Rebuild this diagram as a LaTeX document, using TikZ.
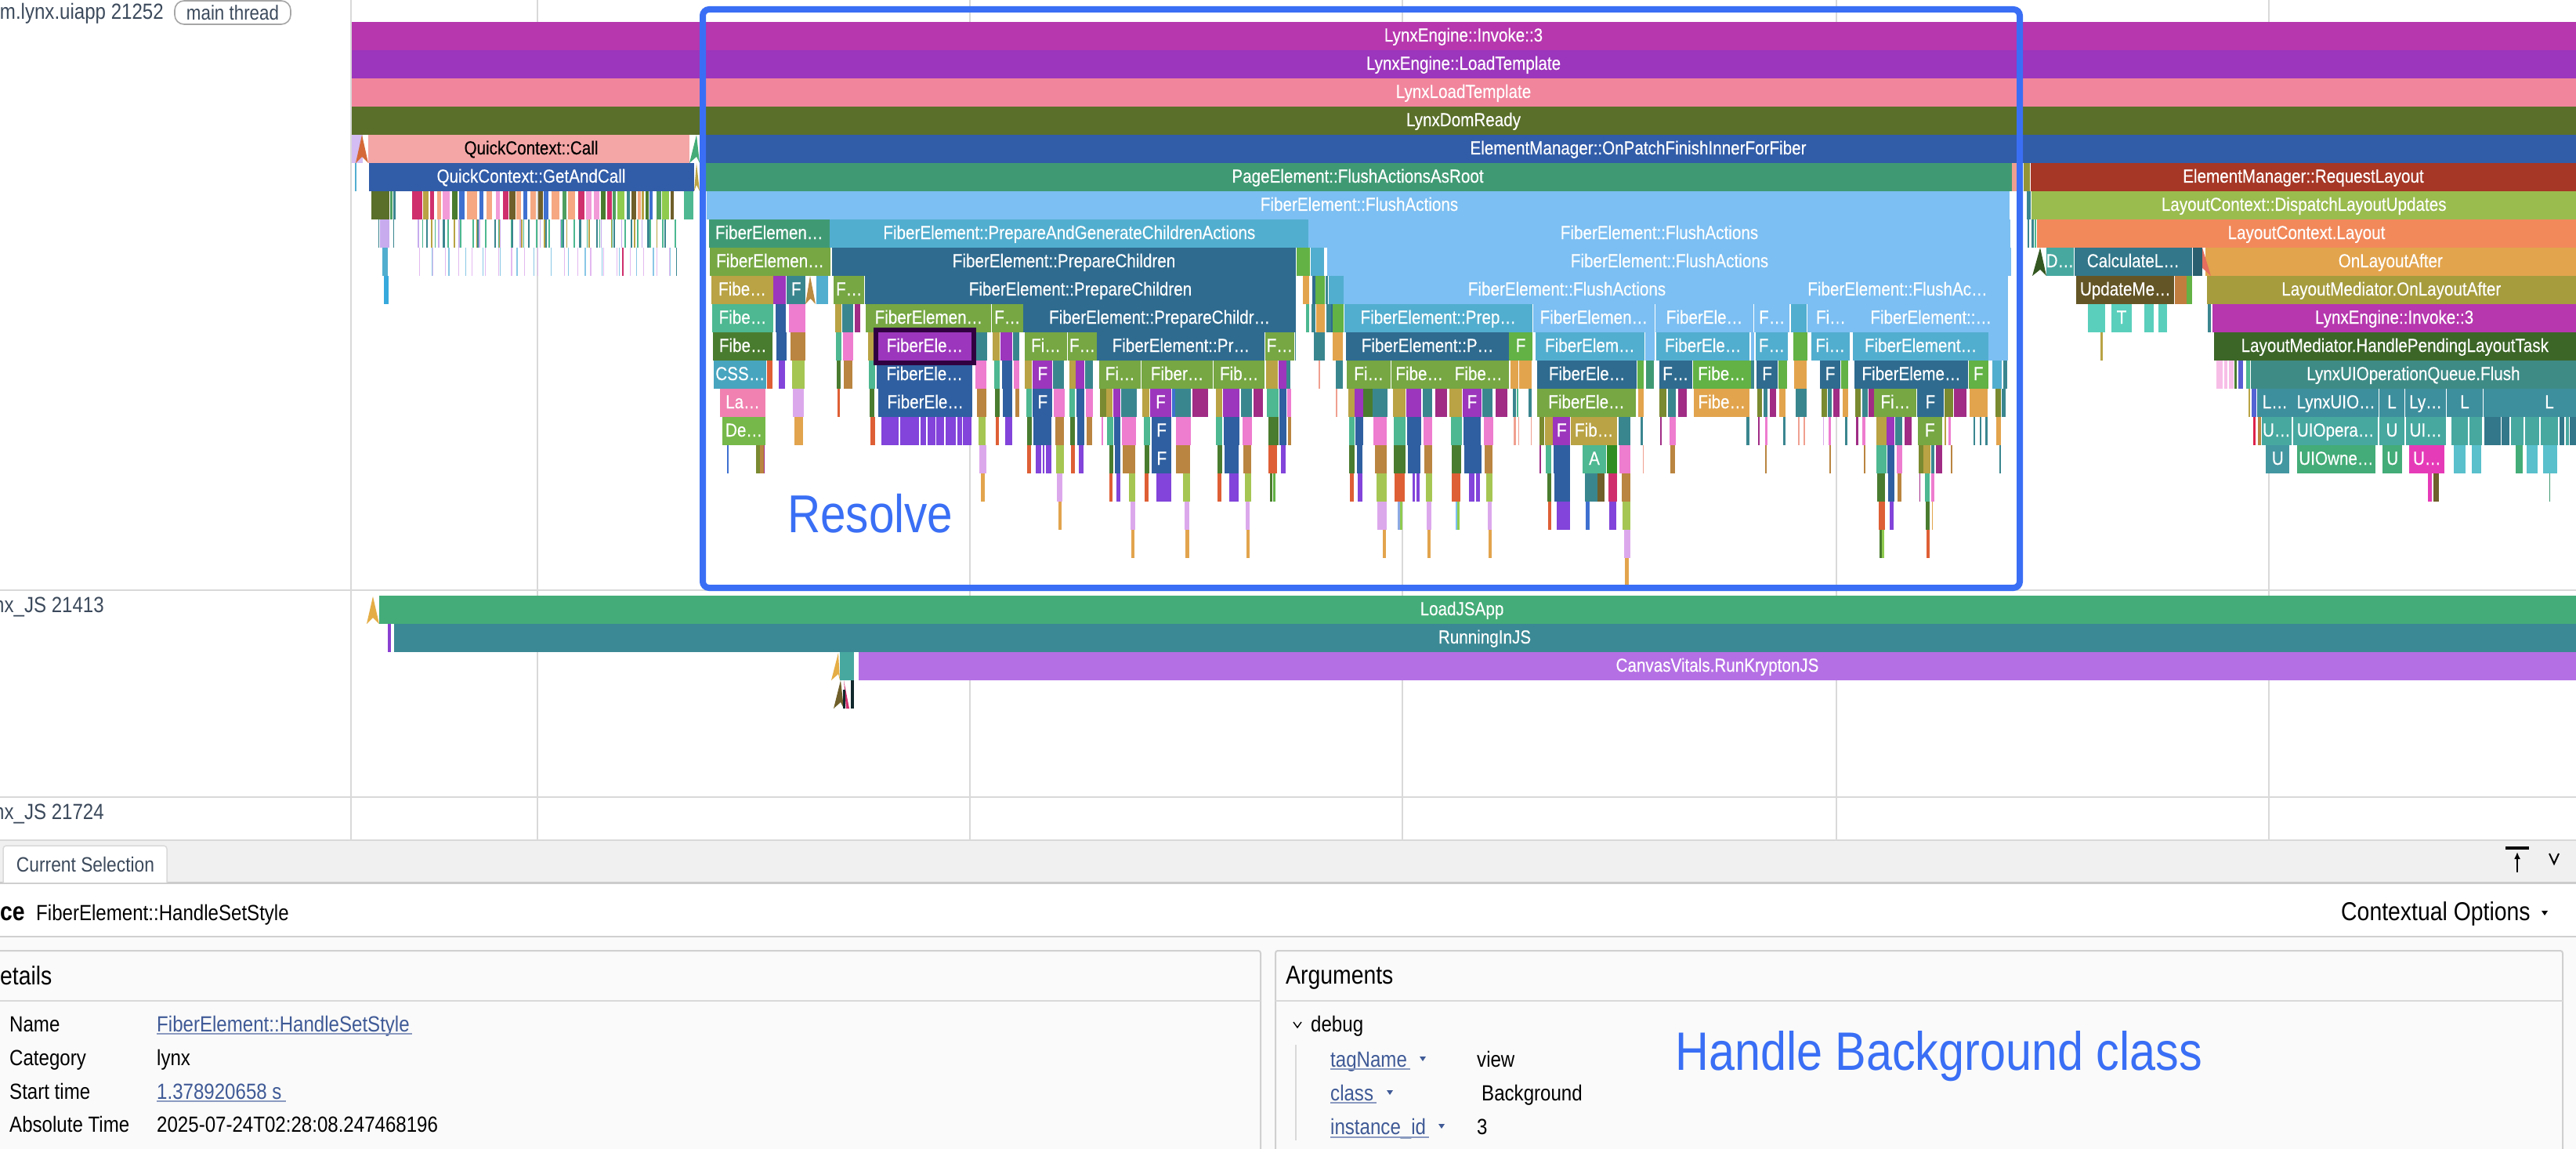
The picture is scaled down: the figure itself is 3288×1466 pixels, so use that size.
\documentclass[tikz,border=0pt]{standalone}
\usepackage{fontspec}
\usetikzlibrary{arrows.meta}
\setmainfont[FakeStretch=0.86]{Liberation Sans}
\newfontfamily\labf[FakeStretch=0.86,FakeBold=0.25]{Liberation Sans}
\definecolor{gA}{HTML}{3F9A74}\definecolor{ol}{HTML}{76A743}\definecolor{lb}{HTML}{52AECF}
\definecolor{dp}{HTML}{2F6B8F}\definecolor{kh}{HTML}{B9A344}\definecolor{pu}{HTML}{9C36BC}
\definecolor{te}{HTML}{3A868F}\definecolor{pk}{HTML}{EE7CCF}\definecolor{mg}{HTML}{4DB891}
\definecolor{dg}{HTML}{4A7C2F}\definecolor{st}{HTML}{2F5FA0}\definecolor{br}{HTML}{BA8540}
\definecolor{cs}{HTML}{48A5BF}\definecolor{orr}{HTML}{DE5F35}\definecolor{vi}{HTML}{8244DA}
\definecolor{li}{HTML}{A6C653}\definecolor{la}{HTML}{DCA8EC}\definecolor{og}{HTML}{E2A44D}
\definecolor{bg}{HTML}{62B245}\definecolor{ma}{HTML}{A02C85}\definecolor{olb}{HTML}{7A8A30}
\definecolor{sk}{HTML}{7CBFF2}\definecolor{sa}{HTML}{F0A090}\definecolor{gridc}{HTML}{D9D9D9}
\definecolor{frame}{HTML}{3A6FF5}\definecolor{lnk}{HTML}{3F5A96}\definecolor{lnkl}{HTML}{8A9AC0}
\definecolor{trk}{HTML}{3C4A5C}\definecolor{cr}{HTML}{CF2F6C}\definecolor{sm}{HTML}{F5A882}
\definecolor{pl}{HTML}{F29AD8}\definecolor{odk}{HTML}{6F5F2A}\definecolor{bl}{HTML}{3F70D0}
\definecolor{gn}{HTML}{4F9F60}\definecolor{lm}{HTML}{8FCB4F}\definecolor{tq}{HTML}{5ACFBC}
\definecolor{tb}{HTML}{47A8A0}\definecolor{tc}{HTML}{33778A}\definecolor{uo}{HTML}{44AC78}
\definecolor{um}{HTML}{E63BB8}\definecolor{ty}{HTML}{59C0CC}\definecolor{rowa}{HTML}{B637AE}
\definecolor{rowd}{HTML}{5A6F2A}\definecolor{rowc}{HTML}{F1859C}\definecolor{rowe}{HTML}{315CA8}
\definecolor{panel}{HTML}{FAFAFA}\definecolor{tabbg}{HTML}{F0F0F0}\definecolor{lineg}{HTML}{D0D0D0}
\definecolor{rqc}{HTML}{A63726}\definecolor{lyc}{HTML}{F2895B}\definecolor{qkc}{HTML}{F4A6A6}
\definecolor{cvk}{HTML}{B56FE4}\definecolor{dpl}{HTML}{9ABC4F}\definecolor{hpl}{HTML}{3C6628}
\definecolor{sel}{HTML}{300040}
\tikzset{
  lab/.style={inner sep=0pt,anchor=base,text=white,font=\labf\fontsize{24}{24}\selectfont},
  ttl/.style={inner sep=0pt,anchor=base west,text=black,font=\fontsize{28}{28}\selectfont},
  lk/.style={inner sep=0pt,anchor=base west,text=lnk,font=\fontsize{28}{28}\selectfont},
  trklab/.style={inner sep=0pt,anchor=base east,text=trk,font=\fontsize{28}{28}\selectfont},
  big/.style={inner sep=0pt,anchor=base west,text=frame,font=\fontsize{68}{68}\selectfont},
  gridl/.style={gridc,line width=2pt},
  ul/.style={lnkl,line width=2pt}
}
\newcounter{lc}
\def\ox{0}\def\sx{1}
\newcommand\setz[2]{\def\ox{#1}\def\sx{#2}}
% row r, items X0/X1/colour[/label] in zoom coordinates
\newcommand\rw[2]{%
  \pgfmathsetmacro\yt{28+36*#1}%
  \pgfmathsetmacro\yb{\yt+36}%
  \pgfmathsetmacro\yl{\yt+18+7}%
  \foreach \pa/\pb/\cc/\tx in {#2}{%
    \pgfmathsetmacro\xa{\ox+\pa/\sx}%
    \pgfmathsetmacro\xb{\ox+\pb/\sx}%
    \fill[\cc] (\xa,\yt) rectangle (\xb,\yb);%
    \ifx\tx\cc\else
      \stepcounter{lc}%
      \node[lab] (n\arabic{lc}) at ({(\xa+\xb)/2},\yl) {\tx};%
    \fi
  }}
% free label at real x centre
\newcommand\rl[3]{%
  \stepcounter{lc}%
  \node[lab] (n\arabic{lc}) at (#2,{28+36*#1+25}) {#3};}
\newcommand\spike[6]{\fill[#6] (#1,#4)--(#2,#5)--(#3,#4)--(#2,{#4-8})--cycle;}
\begin{document}
\begin{tikzpicture}[x=1pt,y=-1pt]
\useasboundingbox (0,0) rectangle (3288,1466);
\fill[white] (0,0) rectangle (3288,1466);
% grid
\foreach \g in {447.5,686,1238,1790,2344,2896} \draw[gridl] (\g,0)--(\g,1072);
\foreach \g in {753,1017,1072} \draw[gridl] (0,\g)--(3288,\g);
% track labels
\node[trklab] (t1) at (209,25) {m.lynx.uiapp 21252};
\node[draw=gray!70,line width=1.6pt,rounded corners=12pt,minimum width=148pt,minimum height=30pt,inner sep=0pt,text=trk,font=\fontsize{26}{26}\selectfont] (t2) at (297,16) {main thread};
\node[trklab] (t3) at (133,781) {nx\_JS 21413};
\node[trklab] (t4) at (133,1045) {nx\_JS 21724};
% top rows
\setz{0}{1}
\rw{0}{449/3288/rowa}
\rw{1}{449/3288/pu}
\rw{2}{449/3288/rowc}
\rw{3}{449/3288/rowd}
\rl{0}{1868}{LynxEngine::Invoke::3}
\rl{1}{1868}{LynxEngine::LoadTemplate}
\rl{2}{1868}{LynxLoadTemplate}
\rl{3}{1868}{LynxDomReady}
\rw{4}{898/3288/rowe}
\rl{4}{2091}{ElementManager::OnPatchFinishInnerForFiber}
\rw{5}{900/2568/gA}
\rl{5}{1733}{PageElement::FlushActionsAsRoot}
\rw{6}{902/2565/sk}
\rl{6}{1735}{FiberElement::FlushActions}
% left block (zoom 1 coordinates)
\setz{0}{1.4255}
\fill[vi!35!white] (449,172) rectangle (463,208);
\spike{454}{462}{470}{208}{172}{orr!70!brown}
\rw{4}{670/1254/qkc}
\node[lab,text=black] (q1) at (678,197) {QuickContext::Call};
\spike{880}{889}{893}{208}{172}{uo}
\rw{5}{646/649/lb,672/1263/rowe}
\rl{5}{678}{QuickContext::GetAndCall}
\spike{886}{889}{893}{244}{208}{kh}
\rw{6}{676/708/rowd,710/714/gn,715/720/te,750/768/cr,770/780/kh,783/790/cr,795/803/sm,805/818/pl,823/832/dg,835/845/bl,850/868/sm,872/880/bl,885/895/sm,902/910/pl,915/925/cr,927/938/odk,940/948/sm,952/960/bl,965/975/sm,980/988/odk,990/998/bl,1003/1018/sm,1023/1030/gn,1033/1046/sm,1052/1064/cr,1066/1076/pl,1080/1090/pl,1093/1102/dg,1105/1113/cr,1115/1120/gn,1123/1136/lm,1140/1146/te,1149/1157/odk,1160/1166/sm,1168/1172/kh,1175/1180/dg,1182/1188/bl,1195/1203/gn,1205/1218/lm,1220/1226/odk,1244/1262/mg}
\rw{7}{688/690/te,691/708/vi!45!white,715/717/te}
\rw{8}{696/706/lb}
\rw{9}{698/707/cyan!55!lb}
\foreach \s in {760,797,...,1228} \fill[vi!45!white] ({\s/1.4255},280) rectangle ++(1.6,36);
\foreach \s in {775,806,...,1228} \fill[te] ({\s/1.4255},280) rectangle ++(2.2,36);
\foreach \s in {784,825,...,1228} \fill[kh] ({\s/1.4255},280) rectangle ++(1.8,36);
\foreach \s in {768,791,...,1228} \fill[mg] ({\s/1.4255},280) rectangle ++(1.6,36);
\foreach \s in {762,786,...,1232} \fill[la!80!white] ({\s/1.4255},316) rectangle ++(1.2,36);
\foreach \s in {785,816,...,1232} \fill[cyan!45!lb!60!white] ({\s/1.4255},316) rectangle ++(1.2,36);
\fill[cr] ({1132/1.4255},316) rectangle ++(2,36);
\fill[te] ({1230/1.4255},316) rectangle ++(1.4,36);
% flame, zoom 2 coordinates
\setz{880}{1.912}
\rw{7}{47/342/gA/FiberElemen…,343/1511/lb/FiberElement::PrepareAndGenerateChildrenActions}
\rw{8}{50/344/ol/FiberElemen…,348/1480/dp/FiberElement::PrepareChildren,1482/1514/bg,1516/1548/lb}
\rw{9}{54/204/kh/Fibe…,205/236/pu,238/283/te/F,310/338/lb,352/427/ol/F…,428/1480/dp/FiberElement::PrepareChildren,1498/1512/og,1520/1528/dp,1528/1550/bg}
\fill[br!80!kh] (1028,388)--(1034,352)--(1041,388)--(1034.5,381)--cycle;
\rw{10}{56/204/mg/Fibe…,210/236/st,243/283/pk,356/370/kh,372/400/te,404/416/ma,431/737/ol/FiberElemen…,738/814/ol/F…,815/1480/dp/FiberElement::PrepareChildr…,1505/1512/mg,1518/1528/te,1532/1550/og,1555/1565/te}
\rw{11}{58/203/dg/Fibe…,212/237/st,247/283/br,358/370/mg,374/399/pk,435/450/kh,700/727/te,740/758/kh,759/788/pu,790/805/te,818/922/ol/Fi…,924/994/ol/F…,995/1404/dp/FiberElement::Pr…,1405/1476/ol/F…,1477/1480/te,1523/1530/te,1534/1540/te,1544/1550/te}
\rw{12}{60/188/cs/CSS…,190/202/orr,218/234/vi,251/281/li,359/369/dg,377/397/br,437/453/mg,457/691/st/FiberEle…,697/725/pk,744/758/mg,762/788/st,792/804/pk,819/836/kh,838/886/pu/F,887/914/te,927/942/kh,943/964/pu,965/985/te,1000/1102/ol/Fi…,1103/1278/ol/Fiber…,1280/1403/ol/Fib…,1408/1436/kh,1438/1456/pu,1456/1467/te,1536/1539/sa}
\rw{13}{75/185/rowc!60!pk/La…,253/279/la,361/368/orr,439/452/dg,461/691/st/FiberEle…,702/725/br,745/758/dg,764/788/st,795/804/br,822/835/mg,838/886/st/F,890/915/pk,928/941/mg,944/964/st,967/985/pk,1002/1017/olb,1018/1033/kh,1034/1052/pu,1054/1091/te,1105/1123/kh,1124/1176/pu/F,1177/1185/bl,1186/1224/te,1228/1266/ma,1284/1301/kh,1302/1342/pu,1346/1373/te,1377/1400/ma,1410/1437/mg,1440/1456/st,1458/1469/pk}
\rw{14}{81/185/bg!70!li/De…,256/277/og,441/453/orr,469/511/vi,515/560/vi,564/578/vi,581/600/vi,603/622/vi,625/650/vi,653/665/vi,668/689/vi,705/723/li,747/756/orr,770/788/vi,824/835/dg,840/884/st,892/913/br,929/940/dg,947/964/st,970/982/br,1006/1010/pk,1020/1034/mg,1037/1052/st,1055/1090/pk,1108/1124/mg,1128/1176/st/F,1187/1223/pk,1285/1300/mg,1304/1342/st,1349/1372/pk,1412/1437/dg,1440/1456/st,1460/1468/br}
\rw{15}{92/96/bl,162/172/olb,172/181/br,181/184/ma,708/725/la,824/833/orr,845/858/vi,862/867/vi,870/883/vi,895/913/li,931/940/orr,950/961/vi,1024/1035/dg,1039/1052/st,1057/1088/br,1111/1123/dg,1129/1176/st/F,1188/1221/br,1289/1301/dg,1306/1341/st,1352/1370/br,1412/1434/orr,1444/1455/vi}
\rw{16}{711/721/og,897/911/la,1024/1033/orr,1042/1052/vi,1073/1088/li,1111/1121/orr,1140/1176/vi,1204/1221/li,1289/1299/orr,1318/1340/vi,1355/1370/li,1416/1423/dg,1424/1430/bg}
\rw{17}{901/909/og,1077/1087/la,1208/1219/la,1357/1368/la}
\rw{18}{1078/1086/og,1210/1219/og,1360/1368/og}
% selected slice
\fill[pu] (1120,424) rectangle (1241,460);
\node[lab] (seln) at (1180.5,449) {FiberEle…};
\draw[sel,line width=6pt] (1118,421) rectangle (1243,463);
% zoom 3 coordinates
\setz{1680}{1.7043}
\fill[sk] (1670,280) rectangle (2566,316);
\rl{7}{2118}{FiberElement::FlushActions}
\rw{8}{24/1511/sk}
\rl{8}{2131}{FiberElement::FlushActions}
\rw{9}{60/1505/sk}
\rl{9}{2000}{FiberElement::FlushActions}
\rl{9}{2422}{FiberElement::FlushAc…}
\rw{9}{0/18/bg,20/26/te,28/60/lb}
\rw{10}{0/16/og,32/36/dp,36/60/bg,61/470/lb/FiberElement::Prep…,472/736/sk/FiberElemen…,738/951/sk/FiberEle…,953/1030/sk/F…,1033/1067/lb,1069/1170/sk/Fi…,1170/1505/sk/FiberElement::…}
\rw{11}{0/16/te,36/58/og,65/419/dp/FiberElement::P…,420/470/bg/F,477/714/lb/FiberElem…,715/737/sk,740/943/lb/FiberEle…,945/952/sk,956/1026/lb/F…,1038/1068/bg,1077/1160/lb/Fi…,1168/1462/lb/FiberElement…,1463/1505/sk}
\rw{12}{5/8/sa,42/58/te,67/162/ol/Fi…,163/286/ol/Fibe…,287/419/ol/Fibe…,422/440/og,441/468/og,481/697/dp/FiberEle…,698/712/bg,717/734/gA,746/818/dp/F…,819/945/bg/Fibe…,946/952/te,958/1004/dp/F,1005/1024/bg,1040/1066/og,1096/1140/dp/F,1142/1158/bg,1171/1418/dp/FiberEleme…,1419/1462/bg/F,1470/1492/lb,1495/1503/te}
\rw{13}{43/46/sa,69/83/kh,84/102/pu,103/122/dg,123/155/te,167/195/kh,196/229/pu,231/252/te,259/285/ma,290/317/kh,318/360/pu/F,362/383/te,390/416/ma,428/434/te,436/440/mg,462/468/te,481/695/ol/FiberEle…,700/712/og,747/762/olb,765/782/te,788/806/ma,822/943/og/Fibe…,960/970/olb,973/982/te,986/1000/ma,1008/1020/og,1043/1066/te,1100/1112/olb,1113/1122/te,1125/1138/ma,1145/1157/og,1173/1185/olb,1188/1200/te,1201/1213/ma,1214/1306/ol/Fi…,1307/1365/dp/F,1366/1385/olb,1387/1415/ma,1421/1461/og,1477/1490/olb,1491/1500/te}
\rw{14}{71/83/mg,86/102/st,124/154/pk,168/195/mg,198/228/st,233/252/pk,293/317/mg,320/358/st,365/385/pk,430/434/sa,440/442/sa,467/469/sa,485/496/olb,497/514/kh,515/553/pu/F,554/655/kh/Fib…,658/684/te,705/711/te,748/752/ma,769/782/pk,936/943/te,961/965/ma,976/982/pk,1016/1020/te,1048/1052/sa,1060/1064/sa,1102/1105/la,1115/1120/pk,1150/1156/te,1175/1179/ma,1188/1195/pk,1218/1240/kh,1241/1258/pu,1260/1275/te,1280/1296/ma,1309/1361/ol/F,1366/1371/kh,1375/1381/pk,1430/1433/te,1443/1447/te,1456/1460/te,1480/1490/og}
\rw{15}{72/83/dg,88/101/st,128/154/br,169/195/dg,200/227/st,236/252/br,295/316/dg,322/360/st,367/383/br,486/489/ma,500/512/mg,517/553/st,579/631/mg/A,632/655/bg!70!green!70!black,660/683/pk,710/712/sa,770/780/br,977/980/br,1116/1119/br,1191/1194/br,1219/1240/mg,1243/1258/st,1262/1275/pk,1311/1320/olb,1321/1336/kh,1337/1345/te,1348/1361/ma,1380/1383/br,1486/1490/te}
\rw{16}{74/82/orr,91/101/vi,131/154/li,171/193/orr,210/215/vi,218/225/vi,239/252/li,295/314/orr,332/345/vi,348/356/vi,370/383/li,502/512/dg,518/552/st,584/611/te,612/627/odk,636/655/cr,664/683/br,1221/1238/dg,1244/1258/st,1265/1273/br,1312/1314/ma,1325/1335/mg,1338/1344/pk}
\rw{17}{133/153/la,177/183/bl!60!white,183/188/lm,241/251/la,303/307/sk,307/311/lm,373/382/la,504/512/orr,523/552/vi,587/594/bl,637/653/vi,667/683/li,1223/1237/orr,1247/1256/vi,1326/1334/dg,1339/1342/og}
\rw{18}{144/151/og,242/248/og,375/382/og,669/683/la,1225/1230/dg,1231/1235/lm,1328/1334/orr}
\rw{19}{672/680/og}
% zoom 4 coordinates
\setz{2500}{1.99}
\rw{5}{135/147/sa,166/182/olb!60!kh,183/1568/rqc/ElementManager::RequestLayout}
\rw{6}{174/183/te,186/1568/dpl/LayoutContext::DispatchLayoutUpdates}
\rw{7}{176/180/te,186/190/te,192/196/mg,199/1568/lyc/LayoutContext.Layout}
\spike{2594}{2604}{2612}{352}{316}{dg!70!black}
\rw{8}{222/293/tb/D…,294/593/tc/CalculateL…,594/619/tc!80!black,626/1568/og/OnLayoutAfter}
\fill[rowc!40!orr] (2811,316) -- (2822,352) -- (2811,342) -- cycle;
\rw{9}{299/548/odk!90!black/UpdateMe…,550/580/br!80!orr,580/592/bg,630/1568/kh!70!olb/LayoutMediator.OnLayoutAfter}
\rw{10}{328/372/tq,388/440/tq/T,472/495/tq,508/530/tq,633/640/te,645/1568/rowa/LynxEngine::Invoke::3}
\rw{11}{361/366/kh,648/1568/hpl/LayoutMediator.HandlePendingLayoutTask}
\rw{12}{655/670/pk!50!white,675/683/pk!50!white,686/698/pk!50!white,700/706/dg,710/722/bl!60!vi,730/740/mg,742/1568/te!80!gn/LynxUIOperationQueue.Flush}
\rw{13}{736/741/kh,744/757/bl!70!vi,758/849/te!70!cs/L…,850/1067/te!70!cs/LynxUIO…,1068/1133/te!70!cs/L,1134/1238/te!70!cs/Ly…,1239/1332/te!70!cs/L,1333/1436/te!70!cs,1437/1476/te!70!cs,1477/1524/te!70!cs/L,1525/1542/te!70!cs,1543/1568/te!70!cs}
\rw{14}{748/754/cr!70!red,761/768/br,770/845/tb/U…,850/1065/tb/UIOpera…,1068/1133/tb/U,1136/1237/tb/UI…,1252/1294/tb,1297/1330/tb,1336/1378/tc,1379/1398/tc,1403/1435/tb,1438/1475/tb,1478/1523/tb,1526/1538/tc,1543/1550/tb,1553/1568/tc}
\rw{15}{781/840/te!70!ty/U,859/1059/uo/UIOwne…,1077/1127/uo/U,1145/1234/um/U…,1258/1288/ty,1303/1327/ty,1414/1432/uo,1443/1470/ty,1485/1520/ty}
\rw{16}{1192/1202/um,1205/1219/odk,1500/1503/gA}
% JS tracks
\fill[uo] (484,760) rectangle (3288,796);
\spike{468}{476}{484}{796}{761}{og!90!yellow}
\node[lab] (js1) at (1866,785) {LoadJSApp};
\fill[vi!70!pu] (495,796) rectangle (499,832);
\fill[te!90!cs] (503,796) rectangle (3288,832);
\node[lab] (js2) at (1895,821) {RunningInJS};
\fill[tb] (1072,832) rectangle (1090,868);
\spike{1061}{1070}{1072}{868}{833}{og!90!yellow}
\fill[cvk] (1096,832) rectangle (3288,868);
\node[lab] (js3) at (2192,857) {CanvasVitals.RunKryptonJS};
\spike{1064}{1073}{1077}{904}{868}{odk}
\fill[cr] (1077,868)--(1080,904)--(1084,904)--cycle;
\fill[black!70!te] (1076,880) rectangle (1079,904);
\fill[black!70!te] (1086,868) rectangle (1090,904);
% frame annotation
\draw[frame,line width=8pt,rounded corners=8pt] (897,12) rectangle (2578,750);
\node[big] (resolve) at (1005,679) {Resolve};
% details panel
\fill[tabbg] (0,1073) rectangle (3288,1125);
\fill[black!20] (0,1125) rectangle (3288,1128);
\draw[gridc,fill=white,line width=1.5pt,rounded corners=4pt] (4,1126)--(4,1079)--(213,1079)--(213,1126);
\node[trklab,anchor=center,font=\fontsize{26.5}{26.5}\selectfont] (tab) at (109,1103) {Current Selection};
\draw[black,line width=4pt] (3198,1082)--(3228,1082);
\draw[black,line width=2pt,-{Latex[length=9pt,width=8pt]}] (3213,1113)--(3213,1087);
\draw[black,line width=2pt] (3254,1089)--(3260,1102)--(3266,1089);
\fill[panel] (0,1196) rectangle (3288,1466);
\draw[lineg,line width=2.5pt] (0,1195)--(3288,1195);
\draw[lineg,line width=2pt] (0,1213)--(1606,1213) arc[start angle=-90,end angle=0,radius=3] -- (1609,1466);
\draw[lineg,line width=2pt] (1628,1466)--(1628,1216) arc[start angle=180,end angle=270,radius=3] -- (3268,1213) arc[start angle=-90,end angle=0,radius=3] -- (3271,1466);
\draw[gridc,line width=2pt] (0,1277)--(1609,1277);
\draw[gridc,line width=2pt] (1628,1277)--(3271,1277);
\node[ttl,font=\bfseries\fontsize{33}{33}\selectfont] (d0) at (0,1174) {ce};
\node[ttl] (d1) at (46,1174) {FiberElement::HandleSetStyle};
\node[ttl,font=\fontsize{33}{33}\selectfont] (d2) at (0,1256) {etails};
\node[ttl] (d3) at (12,1316) {Name};
\node[lk] (d4) at (200,1316) {FiberElement::HandleSetStyle};
\draw[ul] (200,1319)--(526,1319);
\node[ttl] (d5) at (12,1359) {Category};
\node[ttl] (d6) at (200,1359) {lynx};
\node[ttl] (d7) at (12,1402) {Start time};
\node[lk] (d8) at (200,1402) {1.378920658 s};
\draw[ul] (200,1405)--(365,1405);
\node[ttl] (d9) at (12,1444) {Absolute Time};
\node[ttl] (d10) at (200,1444) {2025-07-24T02:28:08.247468196};
% contextual
\node[ttl,font=\fontsize{33}{33}\selectfont] (c1) at (2988,1174) {Contextual Options};
\fill[black] (3244,1162)--(3252,1162)--(3248,1168)--cycle;
% arguments
\node[ttl,font=\fontsize{33}{33}\selectfont] (a0) at (1641,1255) {Arguments};
\draw[black,line width=1.4pt] (1651,1304)--(1656,1311)--(1661,1304);
\node[ttl] (a1) at (1673,1316) {debug};
\draw[gridc,line width=1.5pt] (1654,1333)--(1654,1455);
\node[lk] (a2) at (1698,1361) {tagName};
\draw[ul] (1698,1364)--(1800,1364);
\fill[lnk] (1812,1348)--(1820,1348)--(1816,1354)--cycle;
\node[ttl] (a3) at (1885,1361) {view};
\node[lk] (a4) at (1698,1404) {class};
\draw[ul] (1698,1407)--(1757,1407);
\fill[lnk] (1770,1391)--(1778,1391)--(1774,1397)--cycle;
\node[ttl] (a5) at (1891,1404) {Background};
\node[lk] (a6) at (1698,1447) {instance\_id};
\draw[ul] (1698,1451)--(1824,1451);
\fill[lnk] (1836,1434)--(1844,1434)--(1840,1440)--cycle;
\node[ttl] (a7) at (1885,1447) {3};
\node[big,font=\fontsize{69}{69}\selectfont] (hb) at (2138,1365) {Handle Background class};
\end{tikzpicture}
\end{document}
